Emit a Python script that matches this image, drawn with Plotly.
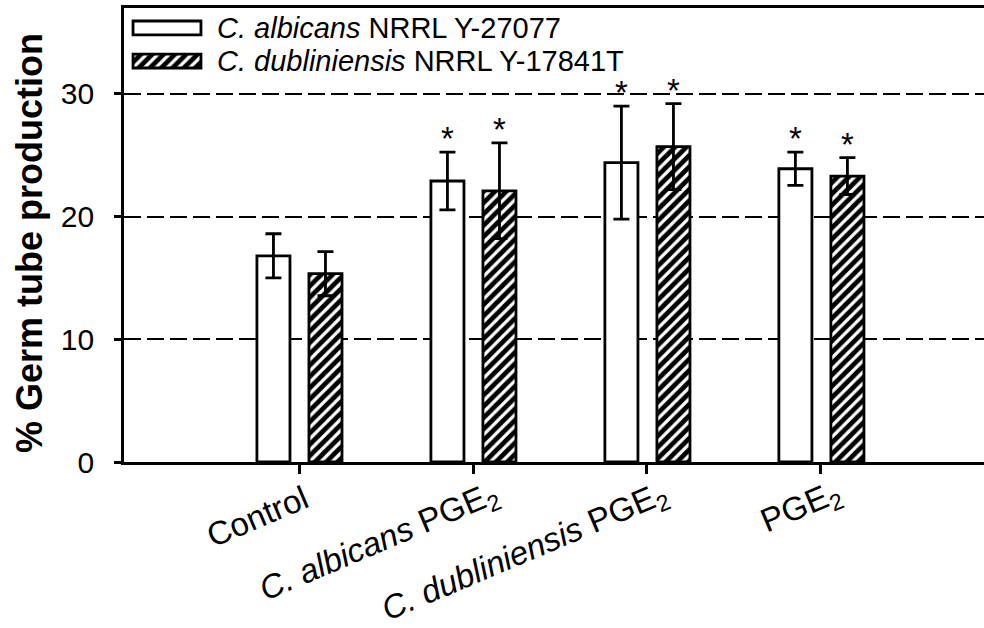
import plotly.graph_objects as go

# Treatments on the x axis
categories = [
    "Control",
    "<i>C. albicans</i> PGE<sub>2</sub>",
    "<i>C. dubliniensis</i> PGE<sub>2</sub>",
    "PGE<sub>2</sub>",
]

# Germ tube production (%) and error for each strain
albicans_mean = [16.8, 22.9, 24.4, 23.9]
albicans_err = [1.8, 2.35, 4.6, 1.35]
dubliniensis_mean = [15.35, 22.1, 25.7, 23.3]
dubliniensis_err = [1.8, 3.9, 3.5, 1.5]

# Significance markers per bar
albicans_sig = ["", "*", "*", "*"]
dubliniensis_sig = ["", "*", "*", "*"]

series_names = [
    "<i>C. albicans</i> NRRL Y-27077",
    "<i>C. dubliniensis</i> NRRL Y-17841T",
]

y_ticks = [0, 10, 20, 30]
y_title = "<b>% Germ tube production</b>"

FONT = "Arial, 'Liberation Sans', sans-serif"
W, H = 984, 628
ML, MR, MT, MB = 124, 0, 8, 166
PW, PH = W - ML - MR, H - MT - MB

BAR_W = 0.19
OFF_A, OFF_D = -0.242, 0.057
LINE_W = 2.8
HATCH = dict(shape="/", fgcolor="black", bgcolor="white", fgopacity=1,
             size=8, solidity=0.6)

# Placement of the slanted category labels: centre offset from the tick (px)
# and centre height (px from the top of the figure)
LABEL_DX = [-42, -94, -122, -19]
LABEL_CY = [516, 543, 553, 508]
LABEL_ANGLE = -23

x_idx = list(range(len(categories)))

px2x = lambda px: (px - ML) / PW
px2y = lambda py: (H - MB - py) / PH

fig = go.Figure()

fig.add_trace(go.Bar(
    x=x_idx, y=albicans_mean, width=BAR_W, offset=OFF_A,
    marker=dict(color="white", line=dict(color="black", width=LINE_W)),
    error_y=dict(type="data", array=albicans_err, color="black", thickness=LINE_W, width=8),
    name=series_names[0], showlegend=False,
))
fig.add_trace(go.Bar(
    x=x_idx, y=dubliniensis_mean, width=BAR_W, offset=OFF_D,
    marker=dict(color="white", line=dict(color="black", width=LINE_W), pattern=HATCH),
    error_y=dict(type="data", array=dubliniensis_err, color="black", thickness=LINE_W, width=8),
    name=series_names[1], showlegend=False,
))

# Legend swatches drawn as bars on a small inset axis pair
fig.add_trace(go.Bar(
    x=[1], y=[1], base=0, orientation="h", width=0.42, xaxis="x2", yaxis="y2",
    marker=dict(color="white", line=dict(color="black", width=LINE_W)),
    showlegend=False, hoverinfo="skip",
))
fig.add_trace(go.Bar(
    x=[1], y=[0], base=0, orientation="h", width=0.42, xaxis="x2", yaxis="y2",
    marker=dict(color="white", line=dict(color="black", width=LINE_W), pattern=HATCH),
    showlegend=False, hoverinfo="skip",
))

annotations = []
for name, row_py in zip(series_names, [28, 61]):
    annotations.append(dict(
        x=px2x(215), y=px2y(row_py), xref="paper", yref="paper",
        text=name, showarrow=False, xanchor="left", yanchor="middle",
        font=dict(family=FONT, size=29, color="black"),
    ))

# Significance stars above the error bars
for means, errs, sig, off in [
    (albicans_mean, albicans_err, albicans_sig, OFF_A),
    (dubliniensis_mean, dubliniensis_err, dubliniensis_sig, OFF_D),
]:
    for i, (m, e, s) in enumerate(zip(means, errs, sig)):
        if s:
            annotations.append(dict(
                x=i + off + BAR_W / 2, y=m + e, xref="x", yref="y",
                text=s, showarrow=False, xanchor="center", yanchor="bottom",
                yshift=-7, font=dict(family=FONT, size=33, color="black"),
            ))

# Slanted category labels under the ticks
for i, label in enumerate(categories):
    annotations.append(dict(
        x=i, y=px2y(LABEL_CY[i]), xref="x", yref="paper",
        text=label, showarrow=False, textangle=LABEL_ANGLE,
        xanchor="center", yanchor="middle", xshift=LABEL_DX[i],
        font=dict(family=FONT, size=33, color="black"),
    ))

# Y axis title
annotations.append(dict(
    x=px2x(29), y=px2y(243), xref="paper", yref="paper",
    text=y_title, showarrow=False, textangle=-90,
    xanchor="center", yanchor="middle",
    font=dict(family=FONT, size=36, color="black"),
))

fig.update_layout(
    width=W, height=H,
    margin=dict(l=ML, r=MR, t=MT, b=MB, pad=0, autoexpand=False),
    paper_bgcolor="white", plot_bgcolor="white",
    barmode="overlay",
    font=dict(family=FONT, size=30, color="black"),
    annotations=annotations,
    xaxis=dict(
        range=[-1.006, 3.937], tickmode="array", tickvals=x_idx, ticktext=[""] * len(x_idx),
        ticks="outside", ticklen=9, tickwidth=LINE_W, tickcolor="black",
        showline=True, linecolor="black", linewidth=LINE_W, mirror=True,
        showgrid=False, zeroline=False, automargin=False,
    ),
    yaxis=dict(
        range=[0, 37], tickmode="array", tickvals=y_ticks,
        ticks="outside", ticklen=7, tickwidth=LINE_W, tickcolor="black",
        showline=True, linecolor="black", linewidth=LINE_W,
        showgrid=True, gridcolor="black", gridwidth=2, griddash="17px,6px",
        zeroline=False, tickfont=dict(size=30), ticklabelstandoff=14, automargin=False,
    ),
    xaxis2=dict(domain=[px2x(131), px2x(203)], range=[-0.03, 1.03], anchor="y2",
                visible=False, fixedrange=True),
    yaxis2=dict(domain=[px2y(70), px2y(19)], range=[-0.27, 1.27], anchor="x2",
                visible=False, fixedrange=True),
)

fig.write_html("out.html")
